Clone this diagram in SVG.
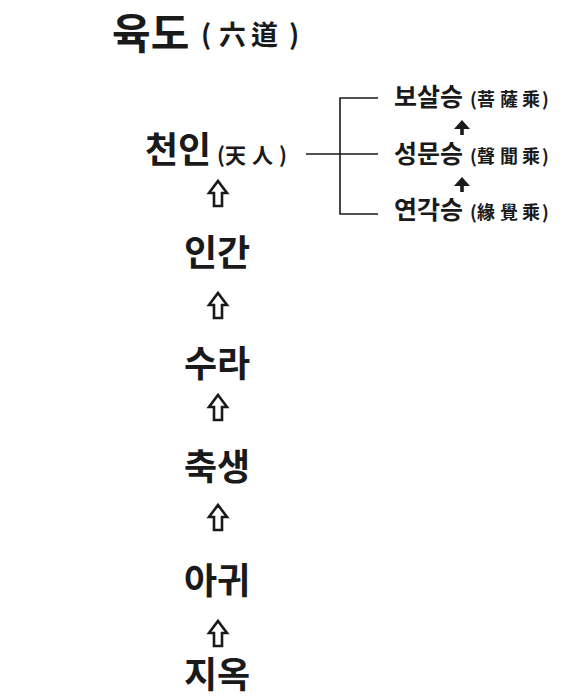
<svg xmlns="http://www.w3.org/2000/svg" width="567" height="699" viewBox="0 0 567 699">
<style>
text{font-family:"Noto Sans CJK KR","Noto Sans CJK SC",sans-serif;font-weight:bold;fill:#1a1a1a}
.big{font-size:36px}
.title{font-size:42px}
.tsub{font-size:27px}
.sub{font-size:21px}
.r{font-size:25px}
.rsub{font-size:18px}
.hollow{fill:#fff;stroke:#1a1a1a;stroke-width:2.6;stroke-linejoin:miter}
.ln{stroke:#1a1a1a;stroke-width:1.6;fill:none}
.solid{fill:#1a1a1a}
</style>
<defs>
<path id="up" class="hollow" d="M0,0 L9,12 L4,12 L4,25 L-4,25 L-4,12 L-9,12 Z"/>
<path id="sup" class="solid" d="M0,0 L8,9 L1.8,9 L1.8,15 L-1.8,15 L-1.8,9 L-8,9 Z"/>
</defs>
<g id="title"><text class="title" x="112" y="49">육도</text><text class="tsub" x="201 219 251 289" y="45">(六道)</text></g>
<g id="node-cheonin"><text class="big" x="145" y="163">천인</text><text class="sub" x="217 225 252 279" y="163">(天人)</text></g>
<g id="node-ingan"><text class="big" x="217" y="266" text-anchor="middle">인간</text></g>
<g id="node-sura"><text class="big" x="217" y="377" text-anchor="middle">수라</text></g>
<g id="node-chuksaeng"><text class="big" x="217" y="480" text-anchor="middle">축생</text></g>
<g id="node-agwi"><text class="big" x="217" y="594" text-anchor="middle">아귀</text></g>
<g id="node-jiok"><text class="big" x="217" y="688" text-anchor="middle">지옥</text></g>
<g id="node-bosal"><text class="r" x="394" y="106">보살승</text><text class="rsub" x="470 477 500 522 542" y="106">(菩薩乘)</text></g>
<g id="node-seongmun"><text class="r" x="394" y="163">성문승</text><text class="rsub" x="470 477 500 522 542" y="163">(聲聞乘)</text></g>
<g id="node-yeongak"><text class="r" x="394" y="219">연각승</text><text class="rsub" x="470 477 500 522 542" y="219">(緣覺乘)</text></g>
<g id="connectors">
<use href="#up" x="218" y="181"/>
<use href="#up" x="218" y="293"/>
<use href="#up" x="218" y="395"/>
<use href="#up" x="218" y="505"/>
<use href="#up" x="218" y="621"/>
<path class="ln" d="M306,154 H378 M378,98 H340 V214 H378"/>
<use href="#sup" x="462" y="120"/>
<use href="#sup" x="462" y="177"/>
</g>
</svg>
